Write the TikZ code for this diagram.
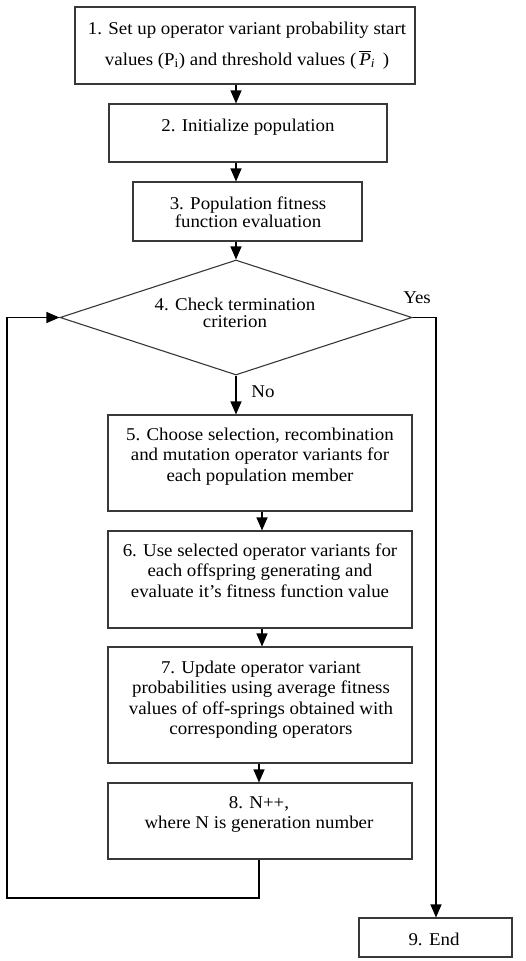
\documentclass[tikz,border=0pt]{standalone}
\usepackage{amsmath}
\usepackage{fontspec}
\setmainfont{Liberation Serif}[FakeStretch=1.05]
\usetikzlibrary{shapes.geometric,arrows.meta,calc}
\begin{document}
\begin{tikzpicture}[x=1pt,y=-1pt,
  boxst/.style={draw=black!78, line width=1.1pt, inner sep=0pt, rectangle},
  dst/.style={draw=black!78, line width=1.1pt, inner sep=0pt, diamond},
  txt/.style={anchor=north, inner sep=0pt, align=center, font=\fontsize{18}{20.5}\selectfont},
  lbl/.style={anchor=north, inner sep=0pt, font=\fontsize{18}{20.5}\selectfont},
  arr/.style={draw=black, line width=1.1pt, -{Triangle[width=11pt,length=13pt]}},
  ln/.style={draw=black, line width=1.1pt}]
\useasboundingbox[fill=white] (0,0) rectangle (525,961);
\def\st{\rule{0pt}{13pt}}
% boxes
\node[boxst, minimum width=340pt, minimum height=77pt] (b1) at (245,45.5) {};
\node[boxst, minimum width=278pt, minimum height=58pt] (b2) at (248,133) {};
\node[boxst, minimum width=229pt, minimum height=59pt] (b3) at (247.5,211.5) {};
\node[dst, minimum width=352pt, minimum height=115pt] (d4) at (236,317.5) {};
\node[boxst, minimum width=304pt, minimum height=96pt] (b5) at (260,463) {};
\node[boxst, minimum width=304pt, minimum height=97pt] (b6) at (260,579.5) {};
\node[boxst, minimum width=304pt, minimum height=116pt] (b7) at (260,705) {};
\node[boxst, minimum width=304pt, minimum height=76pt] (b8) at (260,821) {};
\node[boxst, minimum width=153pt, minimum height=39pt] (b9) at (435.5,937.5) {};
% texts
\node[txt] (t1) at (247,21) {\st 1. Set up operator variant probability start\\[10.5pt]
  values (P\textsubscript{i}) and threshold values (\,$\overline{\textit{P}}_{\textit{i}}$\, )};
\node[txt] (t2) at (248,118) {\st 2. Initialize population};
\node[txt, font=\fontsize{18}{18}\selectfont] (t3) at (248,196) {\st 3. Population fitness\\function evaluation};
\node[txt, font=\fontsize{18}{17.5}\selectfont] (t4) at (235,297) {\st 4. Check termination\\criterion};
\node[txt] (t5) at (260,427) {\st 5. Choose selection, recombination\\and mutation operator variants for\\each population member};
\node[txt] (t6) at (260,543) {\st 6. Use selected operator variants for\\each offspring generating and\\evaluate it’s fitness function value};
\node[txt] (t7) at (261,660) {\st 7. Update operator variant\\probabilities using average fitness\\values of off-springs obtained with\\corresponding operators};
\node[txt] (t8) at (259,795) {\st 8. N++,\\where N is generation number};
\node[txt] (t9) at (434,932) {\st 9. End};
\node[lbl] (yes) at (417,290) {\st Yes};
\node[lbl] (no) at (263,384) {\st No};
% helper coordinates
\coordinate (cA) at (236,0);
\coordinate (cB) at (262,0);
\coordinate (cC) at (259,0);
\coordinate (rx) at (436,0);
\coordinate (lb) at (7,898);
% connectors
\draw[arr] (b1.south -| cA) -- (b2.north -| cA);
\draw[arr] (b2.south -| cA) -- (b3.north -| cA);
\draw[arr] (b3.south -| cA) -- (d4.north);
\draw[arr] (d4.south) -- (b5.north -| d4.south);
\draw[arr] (b5.south -| cB) -- (b6.north -| cB);
\draw[arr] (b6.south -| cB) -- (b7.north -| cB);
\draw[arr] (b7.south -| cC) -- (b8.north -| cC);
\draw[arr] (b8.south -| cC) |- (lb) |- (d4.west);
\draw[arr] (d4.east) -| (b9.north -| rx);
\end{tikzpicture}
\end{document}
